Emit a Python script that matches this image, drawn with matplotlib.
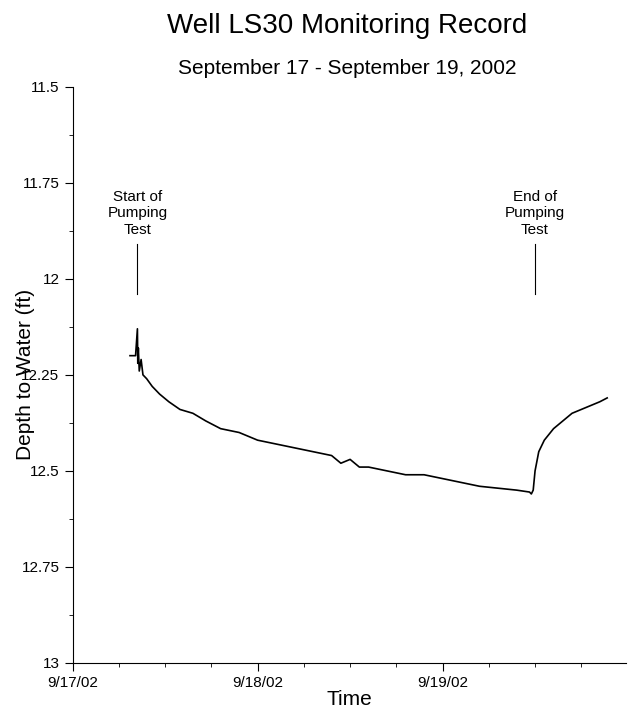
import matplotlib.pyplot as plt
import matplotlib.dates as mdates
from matplotlib.ticker import MultipleLocator
from datetime import datetime, timedelta

# time in days after 9/17/02 00:00, depth to water in ft
days = [0.31, 0.34, 0.35, 0.352, 0.355, 0.36, 0.37, 0.38, 0.40, 0.43, 0.47, 0.52, 0.58,
        0.65, 0.72, 0.80, 0.90, 1.00, 1.10, 1.20, 1.30, 1.40, 1.45, 1.50, 1.55, 1.60,
        1.70, 1.80, 1.90, 2.00, 2.10, 2.20, 2.30, 2.40, 2.47, 2.48, 2.49, 2.50, 2.52,
        2.55, 2.60, 2.65, 2.70, 2.75, 2.80, 2.85, 2.89]
depth = [12.20, 12.20, 12.13, 12.22, 12.18, 12.24, 12.21, 12.25, 12.26, 12.28, 12.30, 12.32, 12.34,
         12.35, 12.37, 12.39, 12.40, 12.42, 12.43, 12.44, 12.45, 12.46, 12.48, 12.47, 12.49, 12.49,
         12.50, 12.51, 12.51, 12.52, 12.53, 12.54, 12.545, 12.55, 12.555, 12.56, 12.55, 12.50, 12.45,
         12.42, 12.39, 12.37, 12.35, 12.34, 12.33, 12.32, 12.31]

start_day = 0.35
end_day = 2.50

t0 = datetime(2002, 9, 17)
times = [t0 + timedelta(days=d) for d in days]

fig, ax = plt.subplots(figsize=(6.32, 7.23), dpi=100)
fig.subplots_adjust(left=0.115, right=0.99, top=0.88, bottom=0.083)
ax.plot(times, depth, color='black', lw=1.2)

for d, label in [(start_day, 'Start of\nPumping\nTest'), (end_day, 'End of\nPumping\nTest')]:
    t = t0 + timedelta(days=d)
    ax.plot([t, t], [11.91, 12.04], color='black', lw=0.8)
    ax.text(t, 11.89, label, ha='center', va='bottom', fontsize=11, family='Liberation Sans')

ax.set_ylim(13, 11.5)
ax.set_xlim(t0, t0 + timedelta(days=2.99))
ax.yaxis.set_major_locator(MultipleLocator(0.25))
ax.yaxis.set_minor_locator(MultipleLocator(0.125))
ax.set_yticks([11.5, 11.75, 12, 12.25, 12.5, 12.75, 13])
ax.set_yticklabels(['11.5', '11.75', '12', '12.25', '12.5', '12.75', '13'])
ax.xaxis.set_major_locator(mdates.DayLocator())
ax.xaxis.set_minor_locator(mdates.HourLocator(byhour=[0, 6, 12, 18]))
ax.xaxis.set_major_formatter(mdates.DateFormatter('%-m/%d/%y'))
for s in ['top', 'right']:
    ax.spines[s].set_visible(False)
ax.tick_params(which='both', direction='out', labelsize=11)
ax.tick_params(which='major', length=6)
ax.tick_params(which='minor', length=3)
for lbl in ax.get_xticklabels() + ax.get_yticklabels():
    lbl.set_family('Liberation Sans')

ax.set_xlabel('Time', fontsize=15, family='Liberation Sans', labelpad=0)
ax.set_ylabel('Depth to Water (ft)', fontsize=15, family='Liberation Sans', labelpad=-10)
fig.text(0.55, 0.955, 'Well LS30 Monitoring Record', ha='center', fontsize=20, family='Liberation Sans')
fig.text(0.55, 0.897, 'September 17 - September 19, 2002', ha='center', fontsize=15, family='Liberation Sans')

plt.savefig('out.png')
